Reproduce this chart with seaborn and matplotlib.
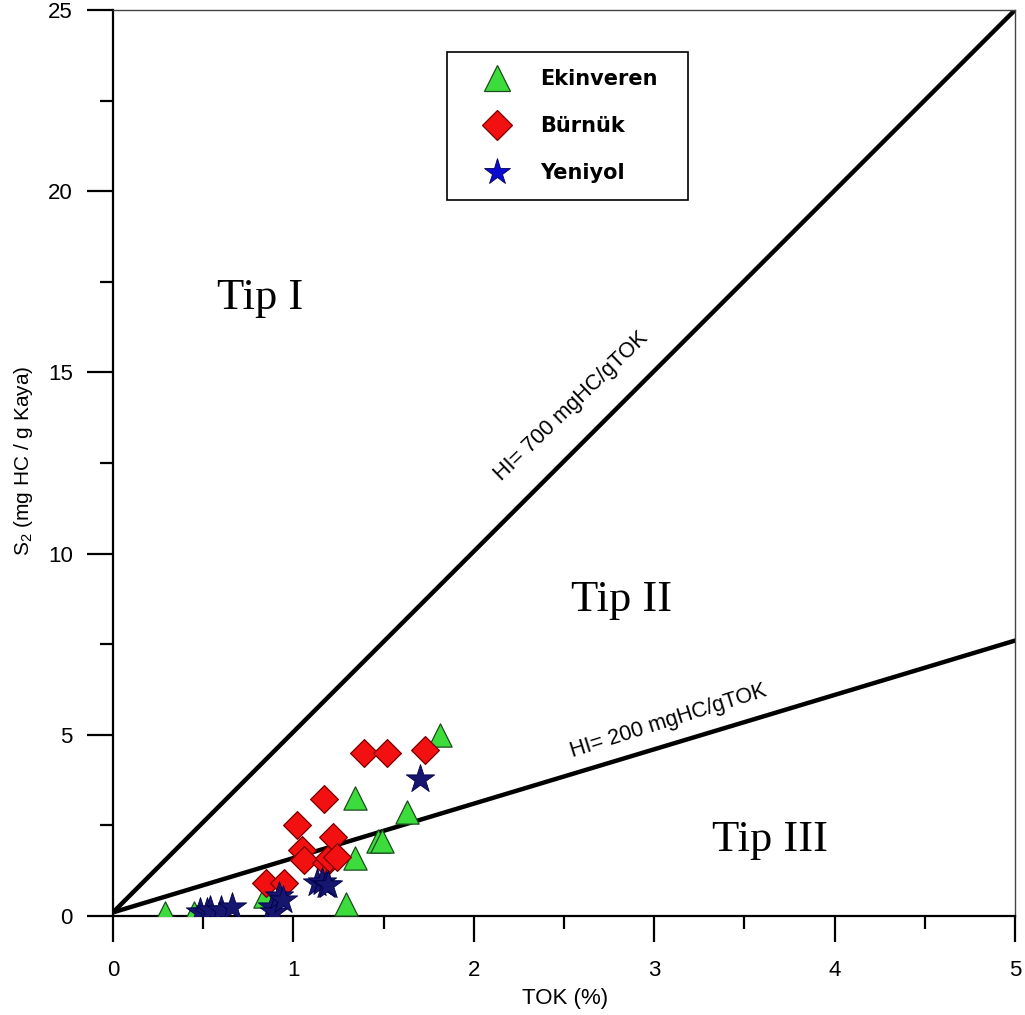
import matplotlib
matplotlib.use("Agg")
import matplotlib.pyplot as plt
from matplotlib.lines import Line2D
from matplotlib.ticker import MultipleLocator
import seaborn as sns

# ---------------- data ----------------
ekinveren_tok = [0.29, 0.45, 0.84, 1.29, 1.34, 1.34, 1.47, 1.49, 1.63, 1.81]
ekinveren_s2 = [0.07, 0.07, 0.55, 0.32, 1.59, 3.25, 2.08, 2.08, 2.88, 4.99]

burnuk_tok = [0.85, 0.95, 1.02, 1.05, 1.06, 1.17, 1.18, 1.20, 1.22, 1.24, 1.39, 1.52, 1.73]
burnuk_s2 = [0.92, 0.92, 2.51, 1.82, 1.55, 3.22, 1.45, 1.59, 2.17, 1.64, 4.49, 4.49, 4.58]

yeniyol_tok = [0.48, 0.52, 0.54, 0.60, 0.66, 0.88, 0.89, 0.92, 0.94, 1.13, 1.16, 1.18, 1.19, 1.70]
yeniyol_s2 = [0.12, 0.10, 0.17, 0.17, 0.24, 0.26, 0.12, 0.55, 0.45, 0.90, 0.95, 0.86, 0.86, 3.77]

hi700_x = [0.0, 5.0]
hi700_y = [0.1, 25.0]
hi200_x = [0.0, 5.0]
hi200_y = [0.1, 7.6]

group_names = ["Ekinveren", "Bürnük", "Yeniyol"]
x_ticks = [0, 1, 2, 3, 4, 5]
y_ticks = [0, 5, 10, 15, 20, 25]

# ---------------- style ----------------
sns.set_theme(style="white")
plt.rcParams["font.family"] = ["Liberation Sans", "DejaVu Sans"]
plt.rcParams["mathtext.default"] = "regular"
for key in ["text.color", "axes.labelcolor", "xtick.color", "ytick.color"]:
    plt.rcParams[key] = "black"

fig = plt.figure(figsize=(10.25, 10.15), dpi=100)
ax = fig.add_axes([113 / 1025, 1 - 916 / 1015, 902 / 1025, 906 / 1015])

# HI lines
sns.lineplot(x=hi700_x, y=hi700_y, color="black", linewidth=3.2, ax=ax, zorder=2)
sns.lineplot(x=hi200_x, y=hi200_y, color="black", linewidth=3.2, ax=ax, zorder=2)

# points
sns.scatterplot(x=ekinveren_tok, y=ekinveren_s2, marker="^", s=280,
                color="#3ddc3d", edgecolor="#1b4d1b", linewidth=0.9, ax=ax, zorder=3)
sns.scatterplot(x=burnuk_tok, y=burnuk_s2, marker="D", s=200,
                color="#f21010", edgecolor="#7a0000", linewidth=0.9, ax=ax, zorder=4)
sns.scatterplot(x=yeniyol_tok, y=yeniyol_s2, marker="*", s=460,
                color="#16166e", edgecolor="#00004a", linewidth=0.6, ax=ax, zorder=5)

ax.set_xlim(0, 5)
ax.set_ylim(0, 25)
ax.set_xticks(x_ticks)
ax.set_yticks(y_ticks)
ax.xaxis.set_minor_locator(MultipleLocator(0.5))
ax.yaxis.set_minor_locator(MultipleLocator(2.5))
ax.tick_params(axis="both", which="major", direction="out", length=19, width=1.6,
               color="black", labelsize=16, labelcolor="black", bottom=True, left=True)
ax.tick_params(axis="both", which="minor", direction="out", length=9.5, width=1.6,
               color="black", bottom=True, left=True)
ax.tick_params(axis="x", which="major", pad=13)
ax.tick_params(axis="y", which="major", pad=10)

for side in ["left", "bottom"]:
    ax.spines[side].set_color("black")
    ax.spines[side].set_linewidth(1.6)
for side in ["top", "right"]:
    ax.spines[side].set_color("#444444")
    ax.spines[side].set_linewidth(1.0)

ax.set_xlabel("TOK (%)", fontsize=16, color="black")
ax.set_ylabel("S$_2$ (mg HC / g Kaya)", fontsize=15, color="black")
ax.xaxis.set_label_coords(0.501, -0.080)
ax.yaxis.set_label_coords(-0.086, 0.503)

# region labels
serif = ["Liberation Serif", "DejaVu Serif"]
ax.text(0.815, 17.05, "Tip I", family=serif, fontsize=32, ha="center", va="center", color="black")
ax.text(2.82, 8.72, "Tip II", family=serif, fontsize=32, ha="center", va="center", color="black")
ax.text(3.64, 2.10, "Tip III", family=serif, fontsize=32, ha="center", va="center", color="black")

# line labels
ax.text(2.54, 14.05, "HI= 700 mgHC/gTOK", fontsize=15.5, rotation=44,
        ha="center", va="center", rotation_mode="anchor", color="black")
ax.text(3.08, 5.38, "HI= 200 mgHC/gTOK", fontsize=15.5, rotation=17.5,
        ha="center", va="center", rotation_mode="anchor", color="black")

# legend
handles = [
    Line2D([], [], linestyle="none", marker="^", markersize=19,
           markerfacecolor="#3ddc3d", markeredgecolor="#1b4d1b", markeredgewidth=0.9),
    Line2D([], [], linestyle="none", marker="D", markersize=15,
           markerfacecolor="#f21010", markeredgecolor="#7a0000", markeredgewidth=0.9),
    Line2D([], [], linestyle="none", marker="*", markersize=20,
           markerfacecolor="#0a0ad0", markeredgecolor="#00005a", markeredgewidth=0.6),
]
leg = fig.legend(handles, group_names, loc="upper left",
                 bbox_to_anchor=(447 / 1025, 1 - 200 / 1015, 241 / 1025, 148 / 1015),
                 bbox_transform=fig.transFigure, mode="expand",
                 frameon=True, fancybox=False, edgecolor="black", framealpha=1,
                 borderpad=0.82, handlelength=3.16, handletextpad=0.48, labelspacing=1.3,
                 borderaxespad=0, numpoints=1,
                 prop={"family": "DejaVu Sans", "weight": "bold", "size": 15})
leg.get_frame().set_linewidth(1.2)
for t in leg.get_texts():
    t.set_color("black")

fig.savefig("out.png", dpi=100)
